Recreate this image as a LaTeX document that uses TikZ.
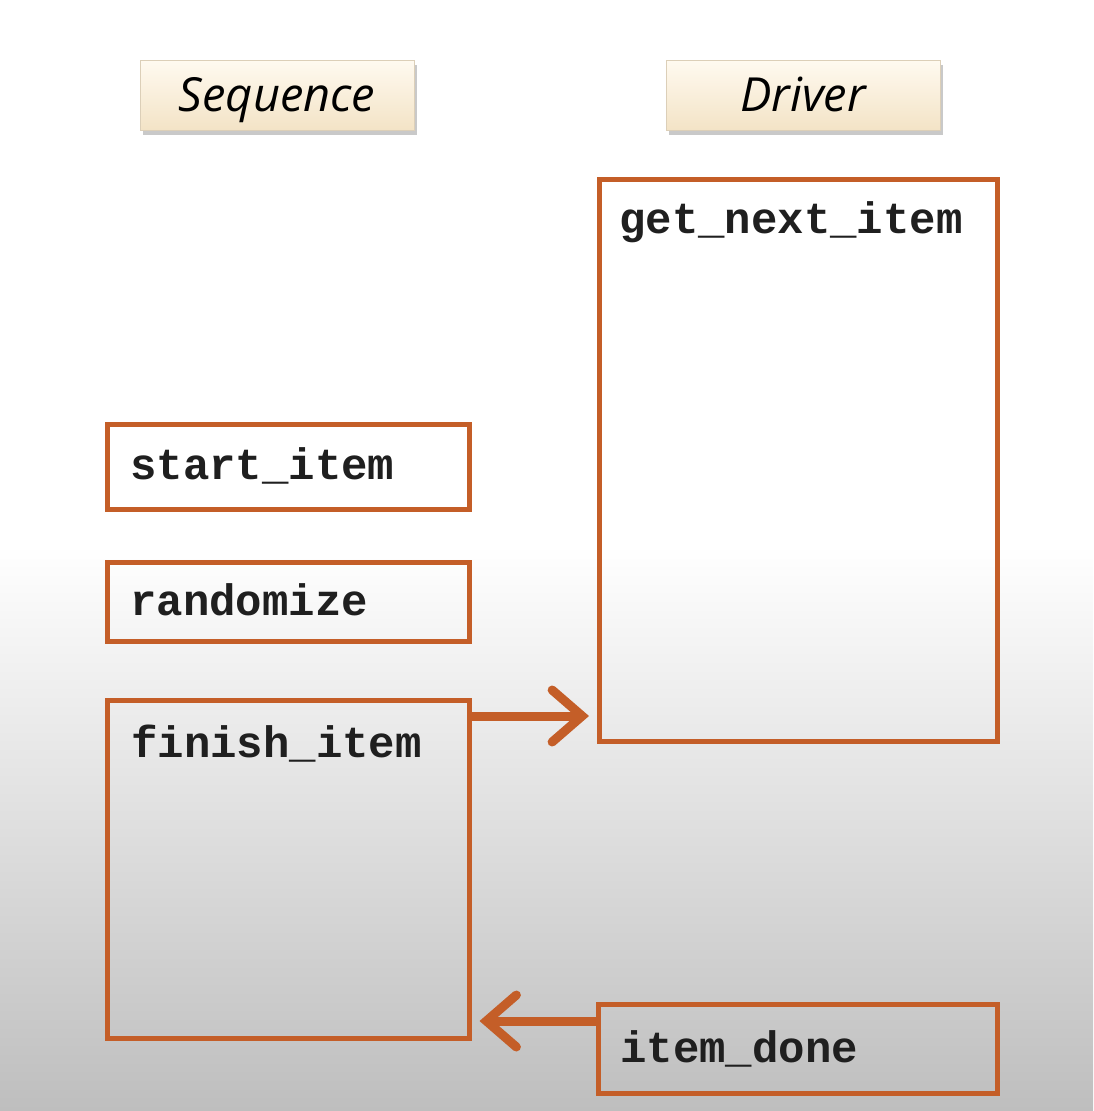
\documentclass[tikz,border=0pt]{standalone}
\usepackage{fontspec}
\setmonofont{Liberation Mono}
\newfontfamily\labelfont{Open Sans}
\usetikzlibrary{arrows.meta,shadows}
\definecolor{boxorange}{RGB}{196,94,40}
\definecolor{creamtop}{RGB}{255,250,240}
\definecolor{creambot}{RGB}{243,227,198}
\definecolor{bggray}{RGB}{190,190,190}
\tikzset{
  bluebox/.style={draw=boxorange, line width=4.5pt, inner sep=0pt, anchor=north west},
  codetxt/.style={font=\fontsize{44}{48}\selectfont\ttfamily\bfseries, anchor=west, inner sep=0pt, text=black!88},
  titlebox/.style={top color=creamtop, bottom color=creambot, draw=creambot!80!gray, line width=0.6pt,
     drop shadow={shadow xshift=3pt, shadow yshift=-5pt, opacity=0.35, fill=black!60},
     minimum width=274pt, minimum height=70pt, inner sep=0pt, text height=38pt, text depth=6pt,
     font=\fontsize{47}{50}\selectfont\labelfont\itshape},
  flow/.style={draw=boxorange, line width=9pt, -{Straight Barb[length=30pt, width=52pt, line cap=round]}}
}
\begin{document}
\begin{tikzpicture}[x=1pt,y=-1pt]
  \useasboundingbox (0,0) rectangle (1093,1111);
  \fill[white] (0,0) rectangle (1093,560);
  \shade[top color=white, bottom color=bggray] (0,545) rectangle (1093,1111);
  % title boxes
  \node[titlebox] (seqlabel) at (277,95) {Sequence};
  \node[titlebox] (drvlabel) at (803,95) {Driver};
  % boxes
  \node[bluebox, minimum width=398pt, minimum height=562pt] (gni) at (597,177) {};
  \node[bluebox, minimum width=362pt, minimum height=85pt] (si) at (105,422) {};
  \node[bluebox, minimum width=362pt, minimum height=79pt] (rnd) at (105,560) {};
  \node[bluebox, minimum width=362pt, minimum height=338pt] (fi) at (105,698) {};
  \node[bluebox, minimum width=399pt, minimum height=89pt] (idn) at (596,1002) {};
  % texts
  \node[codetxt] (tgni) at (619,222) {get\_next\_item};
  \node[codetxt] (tsi) at (130,466) {start\_item};
  \node[codetxt] (trnd) at (130,600) {randomize};
  \node[codetxt] (tfi) at (131,744) {finish\_item};
  \node[codetxt] (tidn) at (620,1049) {item\_done};
  % connectors
  \coordinate (a1s) at (fi.north east |- 0,716);
  \coordinate (a1e) at (gni.west |- 0,716);
  \draw[flow] (a1s) -- ([xshift=-8pt]a1e);
  \coordinate (a2s) at (idn.west |- 0,1021);
  \coordinate (a2e) at (fi.east |- 0,1021);
  \draw[flow] (a2s) -- ([xshift=8pt]a2e);
\end{tikzpicture}
\end{document}
